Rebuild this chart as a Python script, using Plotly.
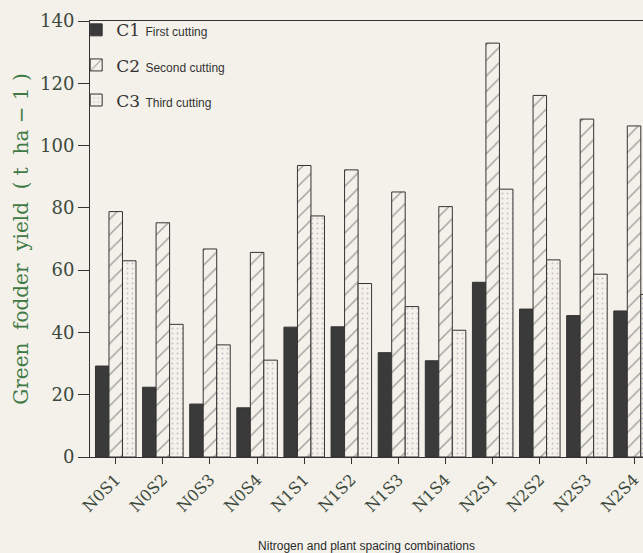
import plotly.graph_objects as go

categories = ["N0S1", "N0S2", "N0S3", "N0S4", "N1S1", "N1S2", "N1S3", "N1S4",
              "N2S1", "N2S2", "N2S3", "N2S4"]
c1_first = [29.2, 22.4, 17.0, 15.8, 41.7, 41.8, 33.5, 30.9, 56.1, 47.5, 45.4, 46.9]
c2_second = [78.8, 75.2, 66.8, 65.7, 93.6, 92.2, 85.1, 80.4, 132.9, 116.1, 108.5, 106.3]
c3_third = [63.0, 42.6, 36.0, 31.1, 77.4, 55.7, 48.3, 40.7, 86.0, 63.3, 58.7, 52.2]
y_ticks = [0, 20, 40, 60, 80, 100, 120, 140]

paper = "#f3f1ea"
ink = "#333333"
small = "font-family:'Liberation Sans',Arial,sans-serif;font-size:12px"

fig = go.Figure()
fig.add_trace(go.Bar(
    x=categories, y=c1_first,
    name="C1 <span style=\"%s\">First cutting</span>" % small,
    marker=dict(color="#3a3a3a", line=dict(color=ink, width=1)),
    legendgroup="a",
))
fig.add_trace(go.Bar(
    x=categories, y=c2_second,
    name="C2 <span style=\"%s\">Second cutting</span>" % small,
    marker=dict(color=paper, line=dict(color=ink, width=1),
                pattern=dict(shape="/", size=11, solidity=0.12,
                             fgcolor="#444444", bgcolor=paper)),
    legendgroup="b",
))
fig.add_trace(go.Bar(
    x=categories, y=c3_third,
    name="C3 <span style=\"%s\">Third cutting</span>" % small,
    marker=dict(color=paper, line=dict(color=ink, width=1),
                pattern=dict(shape=".", size=5, solidity=0.12,
                             fgcolor="#a58aa8", bgcolor=paper)),
    legendgroup="c",
))

fig.update_layout(
    width=643, height=553,
    margin=dict(l=90, r=0, t=21, b=96),
    paper_bgcolor=paper, plot_bgcolor=paper,
    barmode="group", bargap=0.14, bargroupgap=0,
    font=dict(family="DejaVu Serif", color=ink),
    showlegend=True,
    legend=dict(x=-0.025, y=1.02, xanchor="left", yanchor="top",
                bgcolor="rgba(0,0,0,0)", traceorder="grouped",
                tracegroupgap=10,
                font=dict(family="DejaVu Serif", size=17, color=ink)),
    xaxis=dict(
        range=[-0.546, 11.19],
        showline=True, linecolor=ink, linewidth=1, mirror=True,
        ticks="outside", ticklen=6, tickcolor=ink,
        tickangle=-45,
        tickfont=dict(family="DejaVu Serif", size=16, color="#3d4a3d"),
        title=dict(text="Nitrogen and plant spacing combinations",
                   font=dict(family="Liberation Sans", size=12, color="#2a2a2a"),
                   standoff=30),
        showgrid=False, zeroline=False,
    ),
    yaxis=dict(
        range=[0, 140],
        tickvals=y_ticks,
        showline=True, linecolor=ink, linewidth=1,
        ticks="outside", ticklen=11, tickcolor=ink,
        tickfont=dict(family="DejaVu Serif", size=18, color="#3d4a3d"),
        title=dict(text="Green  fodder  yield  ( t  ha − 1 )",
                   font=dict(family="DejaVu Serif", size=20, color="#3f7a45"),
                   standoff=6),
        showgrid=False, zeroline=False,
    ),
)

fig.write_html(
    "out.html",
    config={"displayModeBar": False},
    post_script=("document.body.style.margin='0';"
                 "document.body.style.overflow='hidden';"
                 "document.body.style.background='%s';" % paper),
)
